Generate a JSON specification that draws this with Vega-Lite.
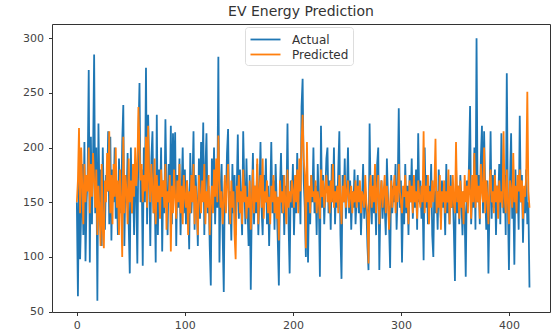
{
  "$schema": "https://vega.github.io/schema/vega-lite/v6.json",
  "width": 498,
  "height": 288,
  "autosize": "none",
  "padding": {"left": 52, "top": 24, "right": 7, "bottom": 23},
  "background": "white",
  "title": {"text": "EV Energy Prediction", "fontSize": 14, "font": "DejaVu Sans", "fontWeight": "normal", "color": "#333", "offset": 5, "anchor": "middle"},
  "data": {"values": [
{"i":0,"Actual":150,"Predicted":150},{"i":1,"Actual":64,"Predicted":170},{"i":2,"Actual":170,"Predicted":218},{"i":3,"Actual":98,"Predicted":140},{"i":4,"Actual":140,"Predicted":200},{"i":5,"Actual":185,"Predicted":165},{"i":6,"Actual":120,"Predicted":130},{"i":7,"Actual":205,"Predicted":185},{"i":8,"Actual":96,"Predicted":150},{"i":9,"Actual":150,"Predicted":175},
{"i":10,"Actual":175,"Predicted":160},{"i":11,"Actual":271,"Predicted":200},{"i":12,"Actual":95,"Predicted":140},{"i":13,"Actual":210,"Predicted":185},{"i":14,"Actual":130,"Predicted":155},{"i":15,"Actual":190,"Predicted":195},{"i":16,"Actual":285,"Predicted":170},{"i":17,"Actual":140,"Predicted":145},{"i":18,"Actual":200,"Predicted":180},{"i":19,"Actual":60,"Predicted":120},
{"i":20,"Actual":222,"Predicted":165},{"i":21,"Actual":150,"Predicted":140},{"i":22,"Actual":180,"Predicted":110},{"i":23,"Actual":110,"Predicted":185},{"i":24,"Actual":200,"Predicted":125},{"i":25,"Actual":145,"Predicted":108},{"i":26,"Actual":125,"Predicted":170},{"i":27,"Actual":175,"Predicted":150},{"i":28,"Actual":160,"Predicted":195},{"i":29,"Actual":215,"Predicted":160},
{"i":30,"Actual":130,"Predicted":215},{"i":31,"Actual":210,"Predicted":140},{"i":32,"Actual":115,"Predicted":175},{"i":33,"Actual":180,"Predicted":130},{"i":34,"Actual":150,"Predicted":185},{"i":35,"Actual":200,"Predicted":155},{"i":36,"Actual":135,"Predicted":200},{"i":37,"Actual":165,"Predicted":145},{"i":38,"Actual":120,"Predicted":170},{"i":39,"Actual":190,"Predicted":120},
{"i":40,"Actual":155,"Predicted":180},{"i":41,"Actual":140,"Predicted":150},{"i":42,"Actual":205,"Predicted":100},{"i":43,"Actual":239,"Predicted":210},{"i":44,"Actual":110,"Predicted":140},{"i":45,"Actual":175,"Predicted":175},{"i":46,"Actual":150,"Predicted":160},{"i":47,"Actual":195,"Predicted":130},{"i":48,"Actual":130,"Predicted":190},{"i":49,"Actual":85,"Predicted":150},
{"i":50,"Actual":200,"Predicted":170},{"i":51,"Actual":140,"Predicted":140},{"i":52,"Actual":170,"Predicted":185},{"i":53,"Actual":120,"Predicted":155},{"i":54,"Actual":185,"Predicted":200},{"i":55,"Actual":160,"Predicted":165},{"i":56,"Actual":94,"Predicted":180},{"i":57,"Actual":210,"Predicted":237},{"i":58,"Actual":259,"Predicted":200},{"i":59,"Actual":150,"Predicted":170},
{"i":60,"Actual":180,"Predicted":185},{"i":61,"Actual":92,"Predicted":150},{"i":62,"Actual":200,"Predicted":175},{"i":63,"Actual":150,"Predicted":160},{"i":64,"Actual":273,"Predicted":210},{"i":65,"Actual":130,"Predicted":145},{"i":66,"Actual":230,"Predicted":220},{"i":67,"Actual":175,"Predicted":170},{"i":68,"Actual":110,"Predicted":150},{"i":69,"Actual":190,"Predicted":185},
{"i":70,"Actual":215,"Predicted":160},{"i":71,"Actual":140,"Predicted":140},{"i":72,"Actual":165,"Predicted":190},{"i":73,"Actual":95,"Predicted":130},{"i":74,"Actual":230,"Predicted":175},{"i":75,"Actual":120,"Predicted":150},{"i":76,"Actual":180,"Predicted":165},{"i":77,"Actual":150,"Predicted":135},{"i":78,"Actual":200,"Predicted":180},{"i":79,"Actual":105,"Predicted":155},
{"i":80,"Actual":170,"Predicted":170},{"i":81,"Actual":140,"Predicted":145},{"i":82,"Actual":226,"Predicted":185},{"i":83,"Actual":160,"Predicted":125},{"i":84,"Actual":120,"Predicted":160},{"i":85,"Actual":185,"Predicted":150},{"i":86,"Actual":150,"Predicted":175},{"i":87,"Actual":220,"Predicted":105},{"i":88,"Actual":130,"Predicted":165},{"i":89,"Actual":213,"Predicted":140},
{"i":90,"Actual":165,"Predicted":180},{"i":91,"Actual":214,"Predicted":155},{"i":92,"Actual":110,"Predicted":135},{"i":93,"Actual":175,"Predicted":170},{"i":94,"Actual":145,"Predicted":150},{"i":95,"Actual":190,"Predicted":185},{"i":96,"Actual":120,"Predicted":140},{"i":97,"Actual":160,"Predicted":165},{"i":98,"Actual":200,"Predicted":130},{"i":99,"Actual":140,"Predicted":175},
{"i":100,"Actual":180,"Predicted":155},{"i":101,"Actual":130,"Predicted":145},{"i":102,"Actual":170,"Predicted":170},{"i":103,"Actual":150,"Predicted":120},{"i":104,"Actual":107,"Predicted":160},{"i":105,"Actual":195,"Predicted":140},{"i":106,"Actual":140,"Predicted":175},{"i":107,"Actual":165,"Predicted":150},{"i":108,"Actual":215,"Predicted":185},{"i":109,"Actual":125,"Predicted":130},
{"i":110,"Actual":175,"Predicted":165},{"i":111,"Actual":150,"Predicted":145},{"i":112,"Actual":110,"Predicted":120},{"i":113,"Actual":190,"Predicted":175},{"i":114,"Actual":135,"Predicted":155},{"i":115,"Actual":205,"Predicted":140},{"i":116,"Actual":160,"Predicted":170},{"i":117,"Actual":223,"Predicted":150},{"i":118,"Actual":120,"Predicted":185},{"i":119,"Actual":180,"Predicted":130},
{"i":120,"Actual":213,"Predicted":160},{"i":121,"Actual":140,"Predicted":145},{"i":122,"Actual":165,"Predicted":175},{"i":123,"Actual":110,"Predicted":120},{"i":124,"Actual":74,"Predicted":150},{"i":125,"Actual":190,"Predicted":165},{"i":126,"Actual":150,"Predicted":140},{"i":127,"Actual":200,"Predicted":180},{"i":128,"Actual":130,"Predicted":155},{"i":129,"Actual":175,"Predicted":190},
{"i":130,"Actual":145,"Predicted":150},{"i":131,"Actual":283,"Predicted":211},{"i":132,"Actual":95,"Predicted":170},{"i":133,"Actual":160,"Predicted":145},{"i":134,"Actual":185,"Predicted":160},{"i":135,"Actual":120,"Predicted":130},{"i":136,"Actual":68,"Predicted":150},{"i":137,"Actual":170,"Predicted":175},{"i":138,"Actual":150,"Predicted":140},{"i":139,"Actual":195,"Predicted":165},
{"i":140,"Actual":217,"Predicted":185},{"i":141,"Actual":130,"Predicted":150},{"i":142,"Actual":160,"Predicted":130},{"i":143,"Actual":115,"Predicted":170},{"i":144,"Actual":185,"Predicted":145},{"i":145,"Actual":140,"Predicted":160},{"i":146,"Actual":175,"Predicted":120},{"i":147,"Actual":120,"Predicted":98},{"i":148,"Actual":160,"Predicted":165},{"i":149,"Actual":212,"Predicted":150},
{"i":150,"Actual":135,"Predicted":175},{"i":151,"Actual":180,"Predicted":140},{"i":152,"Actual":150,"Predicted":160},{"i":153,"Actual":120,"Predicted":130},{"i":154,"Actual":215,"Predicted":180},{"i":155,"Actual":165,"Predicted":150},{"i":156,"Actual":130,"Predicted":165},{"i":157,"Actual":190,"Predicted":135},{"i":158,"Actual":145,"Predicted":155},{"i":159,"Actual":110,"Predicted":145},
{"i":160,"Actual":175,"Predicted":170},{"i":161,"Actual":70,"Predicted":125},{"i":162,"Actual":150,"Predicted":150},{"i":163,"Actual":195,"Predicted":180},{"i":164,"Actual":130,"Predicted":140},{"i":165,"Actual":165,"Predicted":165},{"i":166,"Actual":140,"Predicted":150},{"i":167,"Actual":185,"Predicted":190},{"i":168,"Actual":120,"Predicted":130},{"i":169,"Actual":160,"Predicted":160},
{"i":170,"Actual":205,"Predicted":175},{"i":171,"Actual":145,"Predicted":145},{"i":172,"Actual":120,"Predicted":190},{"i":173,"Actual":175,"Predicted":135},{"i":174,"Actual":150,"Predicted":160},{"i":175,"Actual":190,"Predicted":150},{"i":176,"Actual":130,"Predicted":170},{"i":177,"Actual":165,"Predicted":140},{"i":178,"Actual":110,"Predicted":155},{"i":179,"Actual":155,"Predicted":130},
{"i":180,"Actual":205,"Predicted":165},{"i":181,"Actual":140,"Predicted":150},{"i":182,"Actual":170,"Predicted":175},{"i":183,"Actual":125,"Predicted":140},{"i":184,"Actual":185,"Predicted":160},{"i":185,"Actual":150,"Predicted":135},{"i":186,"Actual":115,"Predicted":155},{"i":187,"Actual":74,"Predicted":115},{"i":188,"Actual":160,"Predicted":170},{"i":189,"Actual":195,"Predicted":150},
{"i":190,"Actual":140,"Predicted":160},{"i":191,"Actual":175,"Predicted":140},{"i":192,"Actual":120,"Predicted":175},{"i":193,"Actual":165,"Predicted":150},{"i":194,"Actual":150,"Predicted":130},{"i":195,"Actual":222,"Predicted":180},{"i":196,"Actual":130,"Predicted":145},{"i":197,"Actual":85,"Predicted":160},{"i":198,"Actual":170,"Predicted":150},{"i":199,"Actual":145,"Predicted":170},
{"i":200,"Actual":185,"Predicted":160},{"i":201,"Actual":120,"Predicted":145},{"i":202,"Actual":160,"Predicted":175},{"i":203,"Actual":140,"Predicted":150},{"i":204,"Actual":195,"Predicted":180},{"i":205,"Actual":150,"Predicted":140},{"i":206,"Actual":175,"Predicted":190},{"i":207,"Actual":130,"Predicted":160},{"i":208,"Actual":237,"Predicted":205},{"i":209,"Actual":263,"Predicted":230},
{"i":210,"Actual":170,"Predicted":190},{"i":211,"Actual":145,"Predicted":175},{"i":212,"Actual":100,"Predicted":108},{"i":213,"Actual":185,"Predicted":205},{"i":214,"Actual":95,"Predicted":150},{"i":215,"Actual":160,"Predicted":165},{"i":216,"Actual":130,"Predicted":140},{"i":217,"Actual":175,"Predicted":175},{"i":218,"Actual":150,"Predicted":155},{"i":219,"Actual":200,"Predicted":160},
{"i":220,"Actual":140,"Predicted":150},{"i":221,"Actual":165,"Predicted":170},{"i":222,"Actual":120,"Predicted":140},{"i":223,"Actual":185,"Predicted":160},{"i":224,"Actual":150,"Predicted":150},{"i":225,"Actual":82,"Predicted":135},{"i":226,"Actual":220,"Predicted":180},{"i":227,"Actual":145,"Predicted":155},{"i":228,"Actual":175,"Predicted":170},{"i":229,"Actual":130,"Predicted":145},
{"i":230,"Actual":160,"Predicted":160},{"i":231,"Actual":190,"Predicted":175},{"i":232,"Actual":200,"Predicted":150},{"i":233,"Actual":140,"Predicted":165},{"i":234,"Actual":170,"Predicted":140},{"i":235,"Actual":125,"Predicted":170},{"i":236,"Actual":185,"Predicted":150},{"i":237,"Actual":150,"Predicted":185},{"i":238,"Actual":200,"Predicted":145},{"i":239,"Actual":130,"Predicted":160},
{"i":240,"Actual":165,"Predicted":150},{"i":241,"Actual":145,"Predicted":165},{"i":242,"Actual":180,"Predicted":140},{"i":243,"Actual":215,"Predicted":175},{"i":244,"Actual":120,"Predicted":155},{"i":245,"Actual":80,"Predicted":130},{"i":246,"Actual":175,"Predicted":165},{"i":247,"Actual":150,"Predicted":150},{"i":248,"Actual":190,"Predicted":175},{"i":249,"Actual":135,"Predicted":145},
{"i":250,"Actual":160,"Predicted":160},{"i":251,"Actual":200,"Predicted":170},{"i":252,"Actual":140,"Predicted":145},{"i":253,"Actual":170,"Predicted":155},{"i":254,"Actual":125,"Predicted":165},{"i":255,"Actual":160,"Predicted":140},{"i":256,"Actual":145,"Predicted":160},{"i":257,"Actual":180,"Predicted":150},{"i":258,"Actual":130,"Predicted":170},{"i":259,"Actual":155,"Predicted":145},
{"i":260,"Actual":175,"Predicted":165},{"i":261,"Actual":140,"Predicted":150},{"i":262,"Actual":165,"Predicted":170},{"i":263,"Actual":120,"Predicted":140},{"i":264,"Actual":150,"Predicted":160},{"i":265,"Actual":185,"Predicted":155},{"i":266,"Actual":135,"Predicted":145},{"i":267,"Actual":160,"Predicted":175},{"i":268,"Actual":145,"Predicted":150},{"i":269,"Actual":110,"Predicted":140},
{"i":270,"Actual":88,"Predicted":94},{"i":271,"Actual":222,"Predicted":160},{"i":272,"Actual":150,"Predicted":175},{"i":273,"Actual":130,"Predicted":145},{"i":274,"Actual":175,"Predicted":165},{"i":275,"Actual":140,"Predicted":150},{"i":276,"Actual":160,"Predicted":185},{"i":277,"Actual":120,"Predicted":140},{"i":278,"Actual":185,"Predicted":160},{"i":279,"Actual":200,"Predicted":175},
{"i":280,"Actual":88,"Predicted":130},{"i":281,"Actual":150,"Predicted":155},{"i":282,"Actual":170,"Predicted":170},{"i":283,"Actual":135,"Predicted":145},{"i":284,"Actual":160,"Predicted":160},{"i":285,"Actual":145,"Predicted":175},{"i":286,"Actual":120,"Predicted":140},{"i":287,"Actual":190,"Predicted":165},{"i":288,"Actual":155,"Predicted":150},{"i":289,"Actual":130,"Predicted":125},
{"i":290,"Actual":90,"Predicted":150},{"i":291,"Actual":175,"Predicted":170},{"i":292,"Actual":140,"Predicted":145},{"i":293,"Actual":165,"Predicted":160},{"i":294,"Actual":150,"Predicted":175},{"i":295,"Actual":185,"Predicted":140},{"i":296,"Actual":125,"Predicted":165},{"i":297,"Actual":160,"Predicted":150},{"i":298,"Actual":236,"Predicted":185},{"i":299,"Actual":145,"Predicted":160},
{"i":300,"Actual":170,"Predicted":150},{"i":301,"Actual":95,"Predicted":140},{"i":302,"Actual":155,"Predicted":165},{"i":303,"Actual":130,"Predicted":155},{"i":304,"Actual":185,"Predicted":175},{"i":305,"Actual":140,"Predicted":145},{"i":306,"Actual":165,"Predicted":160},{"i":307,"Actual":120,"Predicted":130},{"i":308,"Actual":175,"Predicted":170},{"i":309,"Actual":150,"Predicted":150},
{"i":310,"Actual":190,"Predicted":165},{"i":311,"Actual":135,"Predicted":140},{"i":312,"Actual":160,"Predicted":175},{"i":313,"Actual":145,"Predicted":150},{"i":314,"Actual":180,"Predicted":160},{"i":315,"Actual":125,"Predicted":135},{"i":316,"Actual":213,"Predicted":170},{"i":317,"Actual":150,"Predicted":155},{"i":318,"Actual":170,"Predicted":145},{"i":319,"Actual":135,"Predicted":165},
{"i":320,"Actual":160,"Predicted":150},{"i":321,"Actual":97,"Predicted":215},{"i":322,"Actual":200,"Predicted":140},{"i":323,"Actual":145,"Predicted":165},{"i":324,"Actual":175,"Predicted":150},{"i":325,"Actual":130,"Predicted":175},{"i":326,"Actual":165,"Predicted":130},{"i":327,"Actual":150,"Predicted":160},{"i":328,"Actual":185,"Predicted":145},{"i":329,"Actual":120,"Predicted":170},
{"i":330,"Actual":100,"Predicted":150},{"i":331,"Actual":170,"Predicted":165},{"i":332,"Actual":140,"Predicted":208},{"i":333,"Actual":160,"Predicted":140},{"i":334,"Actual":125,"Predicted":160},{"i":335,"Actual":180,"Predicted":145},{"i":336,"Actual":150,"Predicted":175},{"i":337,"Actual":135,"Predicted":125},{"i":338,"Actual":170,"Predicted":160},{"i":339,"Actual":145,"Predicted":150},
{"i":340,"Actual":160,"Predicted":170},{"i":341,"Actual":120,"Predicted":140},{"i":342,"Actual":185,"Predicted":160},{"i":343,"Actual":140,"Predicted":150},{"i":344,"Actual":155,"Predicted":180},{"i":345,"Actual":130,"Predicted":130},{"i":346,"Actual":175,"Predicted":165},{"i":347,"Actual":145,"Predicted":145},{"i":348,"Actual":160,"Predicted":175},{"i":349,"Actual":125,"Predicted":150},
{"i":350,"Actual":78,"Predicted":140},{"i":351,"Actual":185,"Predicted":205},{"i":352,"Actual":140,"Predicted":150},{"i":353,"Actual":165,"Predicted":165},{"i":354,"Actual":130,"Predicted":135},{"i":355,"Actual":175,"Predicted":170},{"i":356,"Actual":150,"Predicted":145},{"i":357,"Actual":120,"Predicted":160},{"i":358,"Actual":160,"Predicted":130},{"i":359,"Actual":140,"Predicted":175},
{"i":360,"Actual":82,"Predicted":150},{"i":361,"Actual":170,"Predicted":165},{"i":362,"Actual":150,"Predicted":140},{"i":363,"Actual":185,"Predicted":180},{"i":364,"Actual":238,"Predicted":160},{"i":365,"Actual":130,"Predicted":135},{"i":366,"Actual":160,"Predicted":175},{"i":367,"Actual":145,"Predicted":150},{"i":368,"Actual":200,"Predicted":195},{"i":369,"Actual":125,"Predicted":145},
{"i":370,"Actual":300,"Predicted":175},{"i":371,"Actual":150,"Predicted":150},{"i":372,"Actual":175,"Predicted":165},{"i":373,"Actual":130,"Predicted":135},{"i":374,"Actual":190,"Predicted":185},{"i":375,"Actual":220,"Predicted":160},{"i":376,"Actual":140,"Predicted":150},{"i":377,"Actual":215,"Predicted":200},{"i":378,"Actual":160,"Predicted":140},{"i":379,"Actual":125,"Predicted":170},
{"i":380,"Actual":170,"Predicted":155},{"i":381,"Actual":85,"Predicted":130},{"i":382,"Actual":150,"Predicted":165},{"i":383,"Actual":215,"Predicted":180},{"i":384,"Actual":135,"Predicted":150},{"i":385,"Actual":175,"Predicted":160},{"i":386,"Actual":145,"Predicted":140},{"i":387,"Actual":180,"Predicted":175},{"i":388,"Actual":120,"Predicted":150},{"i":389,"Actual":165,"Predicted":165},
{"i":390,"Actual":150,"Predicted":135},{"i":391,"Actual":185,"Predicted":170},{"i":392,"Actual":130,"Predicted":150},{"i":393,"Actual":213,"Predicted":160},{"i":394,"Actual":160,"Predicted":145},{"i":395,"Actual":140,"Predicted":215},{"i":396,"Actual":175,"Predicted":155},{"i":397,"Actual":120,"Predicted":140},{"i":398,"Actual":268,"Predicted":180},{"i":399,"Actual":150,"Predicted":150},
{"i":400,"Actual":88,"Predicted":130},{"i":401,"Actual":170,"Predicted":170},{"i":402,"Actual":213,"Predicted":160},{"i":403,"Actual":135,"Predicted":145},{"i":404,"Actual":160,"Predicted":195},{"i":405,"Actual":93,"Predicted":150},{"i":406,"Actual":180,"Predicted":165},{"i":407,"Actual":140,"Predicted":140},{"i":408,"Actual":165,"Predicted":175},{"i":409,"Actual":125,"Predicted":160},
{"i":410,"Actual":229,"Predicted":180},{"i":411,"Actual":150,"Predicted":150},{"i":412,"Actual":175,"Predicted":170},{"i":413,"Actual":113,"Predicted":135},{"i":414,"Actual":160,"Predicted":165},{"i":415,"Actual":140,"Predicted":155},{"i":416,"Actual":180,"Predicted":175},{"i":417,"Actual":130,"Predicted":251},{"i":418,"Actual":150,"Predicted":160},{"i":419,"Actual":72,"Predicted":145}
  ]},
  "transform": [{"fold": ["Actual", "Predicted"], "as": ["series", "value"]}],
  "mark": {"type": "line", "strokeWidth": 1.8, "clip": true},
  "encoding": {
    "x": {"field": "i", "type": "quantitative",
      "scale": {"domain": [-23, 438], "nice": false, "zero": false},
      "axis": {"values": [0, 100, 200, 300, 400], "title": null, "grid": false, "domain": false, "tickColor": "#333", "tickSize": 3.5, "labelPadding": 4, "labelFont": "DejaVu Sans", "labelFontSize": 11, "labelColor": "#444"}},
    "y": {"field": "value", "type": "quantitative",
      "scale": {"domain": [49.7, 313], "nice": false, "zero": false},
      "axis": {"values": [50, 100, 150, 200, 250, 300], "title": null, "grid": false, "domain": false, "tickColor": "#333", "tickSize": 3.5, "labelPadding": 5, "labelFont": "DejaVu Sans", "labelFontSize": 11, "labelColor": "#444"}},
    "color": {"field": "series", "type": "nominal",
      "scale": {"domain": ["Actual", "Predicted"], "range": ["#1f77b4", "#ff7f0e"]},
      "legend": {"title": null, "orient": "none", "legendX": 193, "legendY": 3, "direction": "vertical",
        "symbolType": "M-2,0H2", "symbolSize": 225, "symbolStrokeWidth": 1.8, "symbolOffset": 8, "rowPadding": 0,
        "labelFont": "DejaVu Sans", "labelFontSize": 12, "labelColor": "#333", "labelOffset": 18,
        "fillColor": "white", "strokeColor": "#ddd", "padding": 4, "cornerRadius": 3}}
  },
  "config": {"view": {"stroke": "#333", "strokeWidth": 1}}
}
